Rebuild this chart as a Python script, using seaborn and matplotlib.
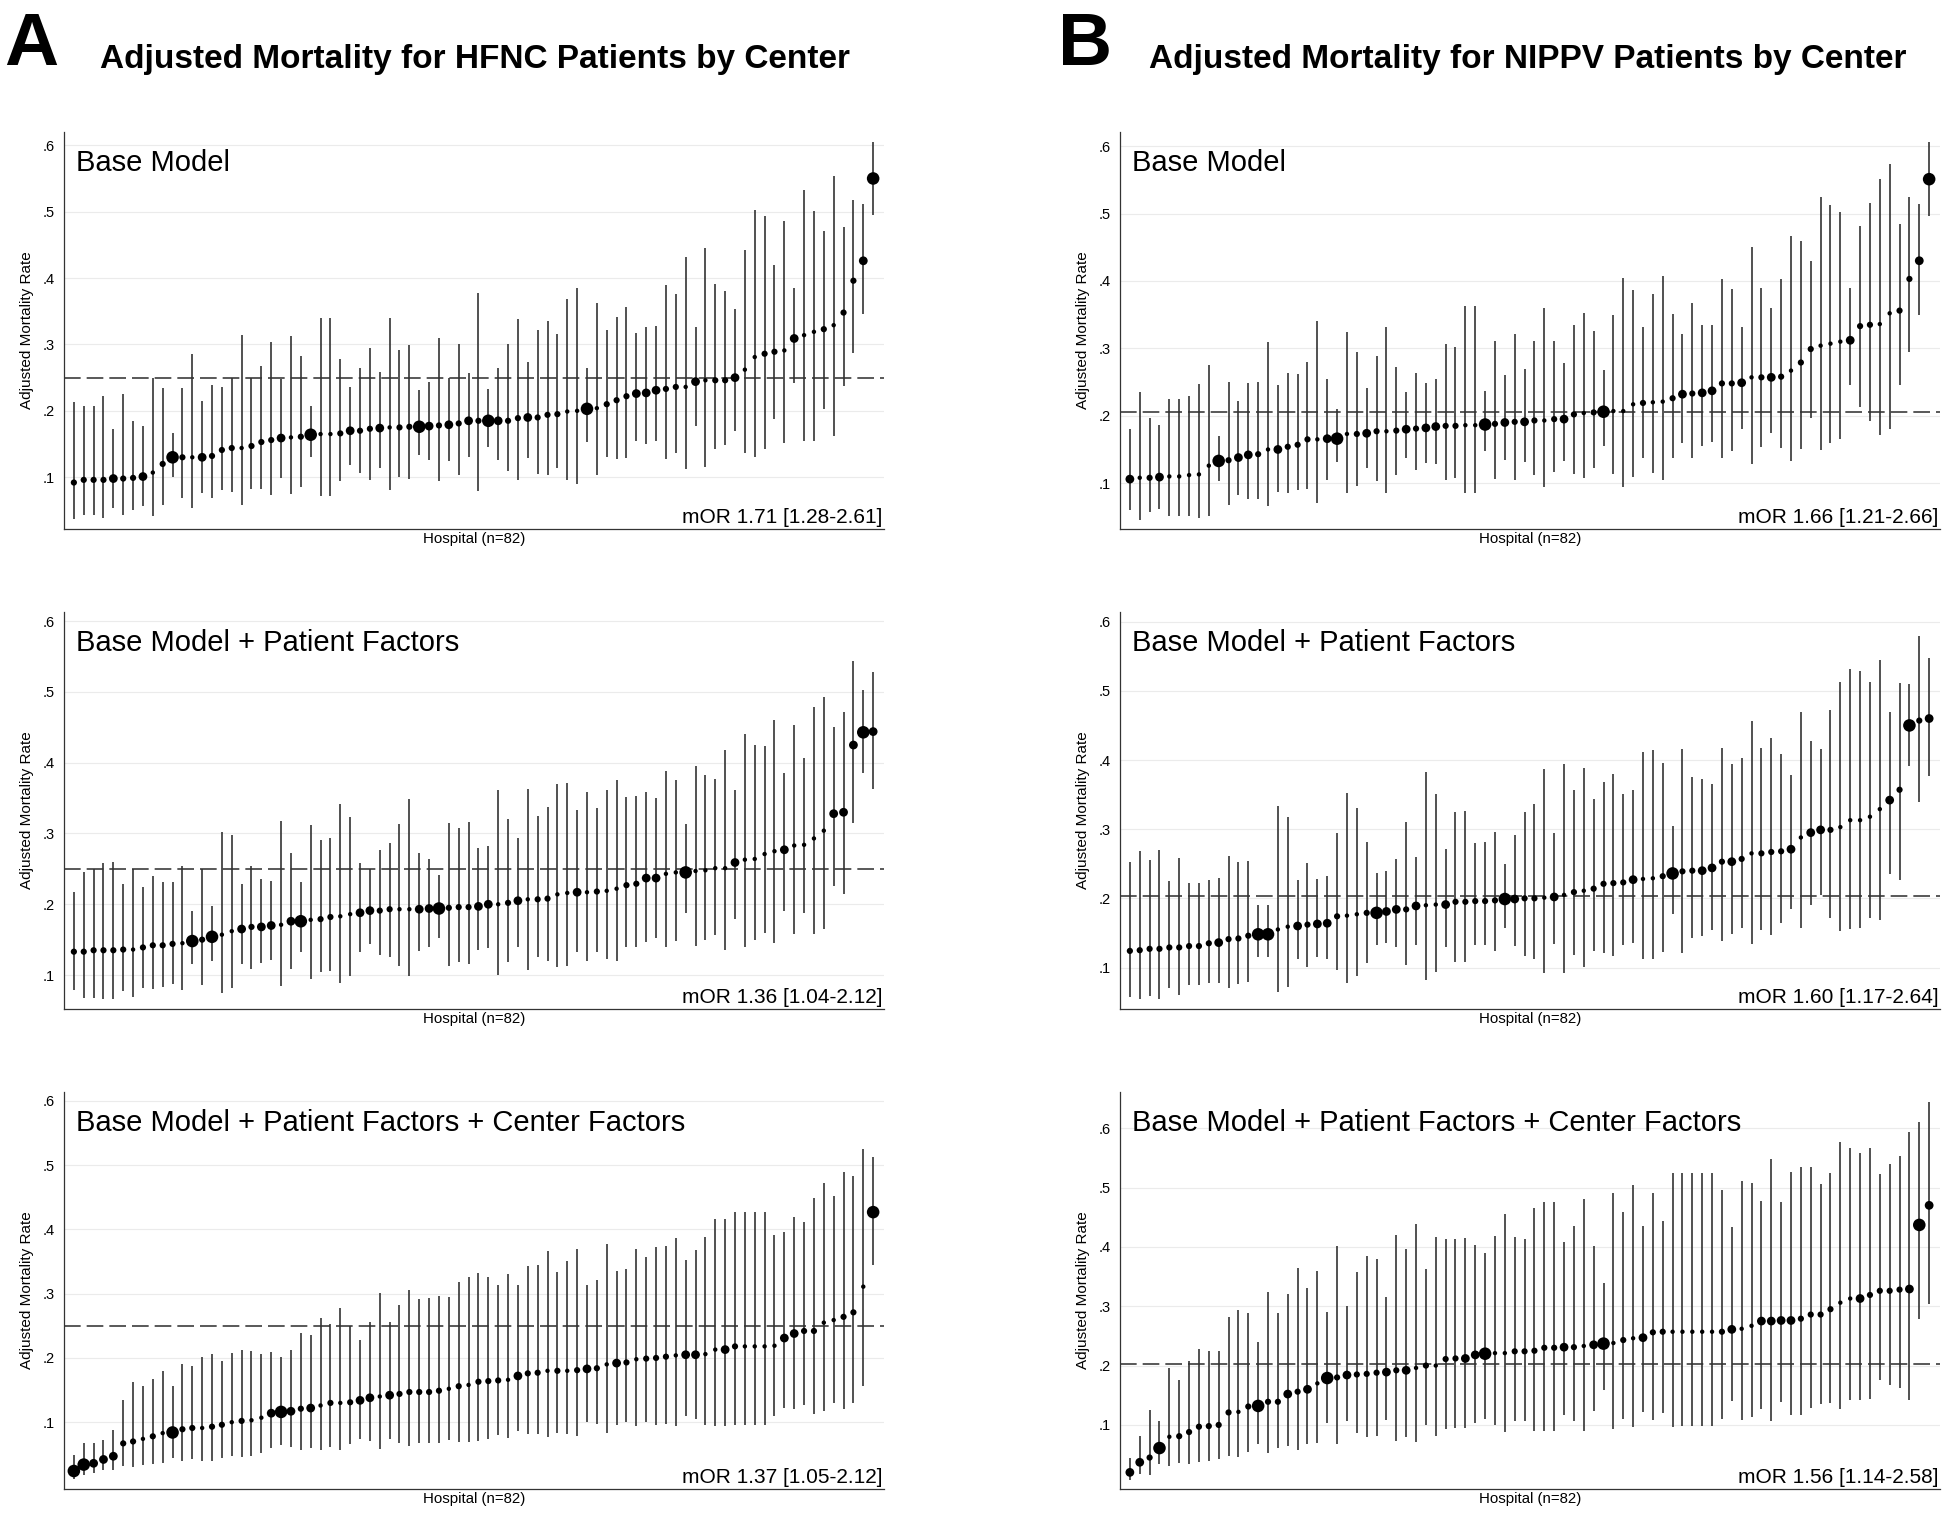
import matplotlib
matplotlib.use("Agg")
import matplotlib.pyplot as plt
import seaborn as sns
import pandas as pd
from matplotlib.ticker import FuncFormatter

# hospitals are sorted by adjusted mortality within each panel
hospitals = list(range(1, 83))
model_labels = ["Base Model", "Base Model + Patient Factors",
                "Base Model + Patient Factors + Center Factors"]
y_ticks = [0.1, 0.2, 0.3, 0.4, 0.5, 0.6]

# ---- A: HFNC ----
hfnc_base_est = [0.092, 0.096, 0.096, 0.096, 0.098, 0.098, 0.099, 0.101, 0.107, 0.120, 0.130, 0.130, 0.130, 0.130,
                 0.132, 0.141, 0.144, 0.144, 0.147, 0.153, 0.156, 0.159, 0.160, 0.161, 0.164, 0.165, 0.165, 0.166,
                 0.170, 0.170, 0.173, 0.174, 0.175, 0.175, 0.176, 0.176, 0.177, 0.178, 0.179, 0.181, 0.185, 0.185,
                 0.185, 0.185, 0.185, 0.189, 0.190, 0.190, 0.194, 0.195, 0.199, 0.200, 0.203, 0.204, 0.210, 0.216,
                 0.222, 0.226, 0.227, 0.231, 0.233, 0.236, 0.236, 0.244, 0.246, 0.246, 0.246, 0.250, 0.262, 0.281,
                 0.286, 0.289, 0.291, 0.309, 0.314, 0.319, 0.323, 0.329, 0.348, 0.396, 0.426, 0.550]
hfnc_base_lo = [0.037, 0.043, 0.043, 0.039, 0.054, 0.043, 0.051, 0.056, 0.042, 0.058, 0.101, 0.068, 0.053, 0.076,
                0.068, 0.080, 0.077, 0.058, 0.082, 0.082, 0.073, 0.099, 0.075, 0.086, 0.130, 0.072, 0.072, 0.095,
                0.119, 0.106, 0.096, 0.114, 0.081, 0.100, 0.097, 0.133, 0.126, 0.095, 0.125, 0.103, 0.130, 0.079,
                0.145, 0.126, 0.109, 0.096, 0.129, 0.105, 0.103, 0.114, 0.096, 0.090, 0.153, 0.104, 0.130, 0.128,
                0.129, 0.155, 0.150, 0.154, 0.127, 0.136, 0.112, 0.177, 0.116, 0.142, 0.149, 0.169, 0.136, 0.131,
                0.142, 0.187, 0.151, 0.242, 0.155, 0.155, 0.203, 0.162, 0.237, 0.287, 0.346, 0.495]
hfnc_base_hi = [0.213, 0.207, 0.207, 0.223, 0.172, 0.225, 0.185, 0.177, 0.249, 0.234, 0.167, 0.235, 0.285, 0.215,
                0.239, 0.236, 0.250, 0.314, 0.250, 0.268, 0.304, 0.248, 0.313, 0.282, 0.208, 0.340, 0.340, 0.278,
                0.236, 0.264, 0.294, 0.258, 0.340, 0.291, 0.299, 0.231, 0.244, 0.309, 0.249, 0.300, 0.257, 0.378,
                0.233, 0.264, 0.301, 0.338, 0.273, 0.322, 0.336, 0.315, 0.369, 0.385, 0.264, 0.363, 0.322, 0.341,
                0.356, 0.317, 0.327, 0.328, 0.389, 0.376, 0.431, 0.326, 0.446, 0.391, 0.380, 0.354, 0.443, 0.502,
                0.494, 0.419, 0.486, 0.385, 0.532, 0.501, 0.471, 0.554, 0.477, 0.518, 0.511, 0.605]
hfnc_base_n = [2, 2, 2, 2, 3, 2, 2, 3, 1, 2, 4, 2, 1, 3, 2, 2, 2, 1, 2, 2, 2, 3, 1, 2, 4, 1, 1, 2, 3, 2, 2, 3, 1, 2,
               2, 4, 3, 2, 3, 2, 3, 2, 4, 3, 2, 2, 3, 2, 2, 2, 1, 1, 4, 1, 2, 2, 2, 3, 3, 3, 2, 2, 1, 3, 1, 2, 2, 3,
               1, 1, 2, 2, 1, 3, 1, 1, 2, 1, 2, 2, 3, 4]

hfnc_pat_est = [0.133, 0.133, 0.135, 0.135, 0.135, 0.136, 0.136, 0.139, 0.142, 0.142, 0.144, 0.145, 0.148, 0.150,
                0.154, 0.157, 0.162, 0.165, 0.168, 0.168, 0.170, 0.171, 0.176, 0.176, 0.178, 0.179, 0.182, 0.183,
                0.186, 0.188, 0.191, 0.191, 0.193, 0.193, 0.193, 0.193, 0.194, 0.194, 0.195, 0.196, 0.196, 0.197,
                0.200, 0.200, 0.202, 0.205, 0.207, 0.207, 0.208, 0.214, 0.216, 0.217, 0.217, 0.218, 0.219, 0.222,
                0.227, 0.229, 0.237, 0.237, 0.243, 0.245, 0.245, 0.247, 0.248, 0.251, 0.251, 0.259, 0.263, 0.264,
                0.271, 0.275, 0.277, 0.283, 0.284, 0.293, 0.304, 0.328, 0.330, 0.425, 0.443, 0.444]
hfnc_pat_lo = [0.079, 0.068, 0.068, 0.066, 0.066, 0.077, 0.069, 0.081, 0.080, 0.083, 0.087, 0.079, 0.115, 0.086,
               0.120, 0.074, 0.081, 0.116, 0.108, 0.117, 0.121, 0.084, 0.109, 0.133, 0.094, 0.104, 0.106, 0.089,
               0.098, 0.133, 0.144, 0.128, 0.125, 0.113, 0.098, 0.134, 0.139, 0.153, 0.113, 0.118, 0.115, 0.135,
               0.138, 0.100, 0.119, 0.139, 0.107, 0.125, 0.120, 0.112, 0.113, 0.132, 0.120, 0.133, 0.123, 0.120,
               0.139, 0.139, 0.147, 0.153, 0.140, 0.148, 0.187, 0.141, 0.150, 0.156, 0.135, 0.179, 0.140, 0.150,
               0.159, 0.145, 0.190, 0.158, 0.187, 0.158, 0.165, 0.226, 0.214, 0.315, 0.386, 0.363]
hfnc_pat_hi = [0.217, 0.246, 0.250, 0.259, 0.260, 0.228, 0.250, 0.225, 0.240, 0.232, 0.232, 0.254, 0.190, 0.250,
               0.198, 0.302, 0.298, 0.228, 0.254, 0.235, 0.233, 0.318, 0.272, 0.232, 0.312, 0.291, 0.294, 0.342,
               0.324, 0.258, 0.250, 0.276, 0.286, 0.313, 0.349, 0.272, 0.264, 0.242, 0.315, 0.308, 0.316, 0.279,
               0.282, 0.361, 0.321, 0.293, 0.363, 0.325, 0.338, 0.370, 0.371, 0.333, 0.358, 0.336, 0.361, 0.375,
               0.351, 0.353, 0.359, 0.350, 0.389, 0.376, 0.314, 0.395, 0.383, 0.377, 0.418, 0.362, 0.441, 0.425,
               0.423, 0.461, 0.385, 0.453, 0.407, 0.479, 0.493, 0.450, 0.472, 0.544, 0.503, 0.528]
hfnc_pat_n = [2, 2, 2, 2, 2, 2, 1, 2, 2, 2, 2, 1, 4, 2, 4, 1, 1, 3, 2, 3, 3, 1, 3, 4, 1, 2, 2, 1, 1, 3, 3, 2, 2, 1,
              1, 3, 3, 4, 2, 2, 2, 3, 3, 1, 2, 3, 1, 2, 2, 1, 1, 3, 1, 2, 1, 1, 2, 2, 3, 3, 1, 1, 4, 1, 1, 1, 1, 3,
              1, 1, 1, 1, 3, 1, 1, 1, 1, 3, 3, 3, 4, 3]

hfnc_ctr_est = [0.024, 0.034, 0.036, 0.042, 0.047, 0.067, 0.070, 0.074, 0.078, 0.083, 0.084, 0.089, 0.091, 0.091,
                0.093, 0.096, 0.100, 0.102, 0.103, 0.107, 0.114, 0.116, 0.117, 0.121, 0.122, 0.126, 0.130, 0.130,
                0.131, 0.134, 0.138, 0.140, 0.142, 0.144, 0.147, 0.147, 0.147, 0.149, 0.152, 0.156, 0.158, 0.163,
                0.164, 0.165, 0.166, 0.172, 0.176, 0.177, 0.180, 0.180, 0.180, 0.181, 0.183, 0.184, 0.190, 0.192,
                0.193, 0.198, 0.199, 0.200, 0.202, 0.204, 0.205, 0.205, 0.206, 0.213, 0.213, 0.218, 0.218, 0.218,
                0.218, 0.219, 0.231, 0.238, 0.242, 0.242, 0.255, 0.259, 0.264, 0.271, 0.311, 0.427]
hfnc_ctr_lo = [0.012, 0.018, 0.021, 0.025, 0.025, 0.032, 0.030, 0.034, 0.035, 0.037, 0.044, 0.039, 0.042, 0.039,
               0.039, 0.045, 0.047, 0.046, 0.048, 0.052, 0.060, 0.065, 0.062, 0.056, 0.060, 0.056, 0.062, 0.056,
               0.066, 0.074, 0.070, 0.058, 0.074, 0.068, 0.063, 0.068, 0.068, 0.068, 0.073, 0.069, 0.069, 0.071,
               0.074, 0.080, 0.075, 0.087, 0.081, 0.082, 0.077, 0.083, 0.082, 0.078, 0.100, 0.097, 0.083, 0.096,
               0.100, 0.094, 0.100, 0.096, 0.097, 0.094, 0.109, 0.105, 0.096, 0.094, 0.094, 0.096, 0.096, 0.096,
               0.096, 0.109, 0.122, 0.121, 0.126, 0.112, 0.117, 0.130, 0.120, 0.130, 0.156, 0.345]
hfnc_ctr_hi = [0.049, 0.068, 0.067, 0.072, 0.088, 0.135, 0.162, 0.157, 0.168, 0.180, 0.157, 0.191, 0.188, 0.201,
               0.206, 0.196, 0.207, 0.212, 0.211, 0.206, 0.210, 0.202, 0.212, 0.239, 0.235, 0.262, 0.253, 0.278,
               0.249, 0.228, 0.256, 0.301, 0.256, 0.283, 0.306, 0.292, 0.293, 0.297, 0.295, 0.318, 0.326, 0.333,
               0.326, 0.313, 0.330, 0.313, 0.343, 0.344, 0.367, 0.334, 0.351, 0.369, 0.313, 0.322, 0.378, 0.335,
               0.339, 0.370, 0.357, 0.373, 0.374, 0.387, 0.352, 0.368, 0.388, 0.417, 0.417, 0.427, 0.427, 0.427,
               0.427, 0.392, 0.396, 0.419, 0.412, 0.449, 0.473, 0.452, 0.489, 0.483, 0.526, 0.513]
hfnc_ctr_n = [4, 4, 3, 3, 3, 2, 2, 1, 2, 1, 4, 2, 2, 1, 2, 2, 1, 2, 1, 1, 3, 4, 3, 2, 3, 1, 2, 1, 2, 3, 3, 1, 3, 2,
              2, 2, 2, 2, 1, 2, 1, 2, 2, 2, 1, 3, 2, 2, 1, 2, 1, 2, 3, 2, 1, 3, 2, 1, 2, 2, 2, 1, 3, 3, 1, 1, 3, 2,
              1, 1, 1, 1, 3, 3, 2, 2, 1, 1, 2, 2, 1, 4]

# ---- B: NIPPV ----
nippv_base_est = [0.106, 0.108, 0.108, 0.109, 0.110, 0.110, 0.112, 0.113, 0.126, 0.133, 0.134, 0.138, 0.142, 0.143,
                  0.150, 0.150, 0.154, 0.157, 0.165, 0.165, 0.166, 0.166, 0.173, 0.173, 0.174, 0.177, 0.177, 0.178,
                  0.180, 0.181, 0.182, 0.184, 0.185, 0.185, 0.186, 0.186, 0.187, 0.188, 0.190, 0.191, 0.191, 0.193,
                  0.193, 0.195, 0.195, 0.202, 0.204, 0.205, 0.206, 0.207, 0.207, 0.217, 0.219, 0.220, 0.221, 0.226,
                  0.232, 0.233, 0.234, 0.237, 0.248, 0.248, 0.249, 0.257, 0.257, 0.257, 0.258, 0.267, 0.279, 0.299,
                  0.304, 0.307, 0.310, 0.312, 0.333, 0.335, 0.336, 0.352, 0.356, 0.403, 0.430, 0.551]
nippv_base_lo = [0.060, 0.046, 0.057, 0.061, 0.051, 0.051, 0.051, 0.048, 0.052, 0.103, 0.067, 0.083, 0.077, 0.077,
                 0.066, 0.087, 0.086, 0.090, 0.091, 0.071, 0.104, 0.132, 0.085, 0.096, 0.123, 0.103, 0.086, 0.112,
                 0.137, 0.119, 0.130, 0.129, 0.104, 0.108, 0.085, 0.085, 0.148, 0.106, 0.134, 0.104, 0.131, 0.112,
                 0.094, 0.116, 0.133, 0.114, 0.108, 0.122, 0.155, 0.113, 0.094, 0.109, 0.137, 0.115, 0.104, 0.137,
                 0.160, 0.138, 0.155, 0.161, 0.138, 0.147, 0.181, 0.128, 0.154, 0.175, 0.152, 0.133, 0.151, 0.196,
                 0.149, 0.159, 0.166, 0.246, 0.213, 0.192, 0.172, 0.181, 0.246, 0.294, 0.350, 0.496]
nippv_base_hi = [0.180, 0.235, 0.196, 0.186, 0.225, 0.225, 0.230, 0.247, 0.276, 0.170, 0.250, 0.222, 0.248, 0.250,
                 0.310, 0.246, 0.263, 0.262, 0.280, 0.341, 0.255, 0.210, 0.324, 0.294, 0.241, 0.289, 0.332, 0.272,
                 0.235, 0.264, 0.249, 0.255, 0.306, 0.302, 0.363, 0.363, 0.236, 0.311, 0.261, 0.322, 0.269, 0.311,
                 0.360, 0.311, 0.279, 0.335, 0.353, 0.326, 0.268, 0.350, 0.404, 0.387, 0.332, 0.380, 0.408, 0.351,
                 0.322, 0.367, 0.335, 0.335, 0.403, 0.388, 0.331, 0.451, 0.389, 0.360, 0.403, 0.467, 0.459, 0.429,
                 0.524, 0.513, 0.503, 0.389, 0.481, 0.515, 0.552, 0.574, 0.484, 0.525, 0.514, 0.606]
nippv_base_n = [3, 1, 2, 3, 1, 1, 1, 1, 1, 4, 2, 3, 3, 2, 1, 3, 2, 2, 2, 1, 3, 4, 1, 2, 3, 2, 1, 2, 3, 2, 3, 3, 2, 2,
                1, 1, 4, 2, 3, 2, 3, 2, 1, 2, 3, 2, 1, 2, 4, 1, 1, 1, 2, 1, 1, 2, 3, 2, 3, 3, 2, 2, 3, 1, 2, 3, 2, 1,
                2, 2, 1, 1, 1, 3, 2, 2, 1, 1, 2, 2, 3, 4]

nippv_pat_est = [0.124, 0.125, 0.127, 0.127, 0.129, 0.129, 0.131, 0.131, 0.135, 0.136, 0.141, 0.142, 0.146, 0.148,
                 0.148, 0.155, 0.159, 0.160, 0.162, 0.163, 0.164, 0.174, 0.175, 0.177, 0.179, 0.179, 0.181, 0.184,
                 0.184, 0.189, 0.190, 0.191, 0.191, 0.195, 0.195, 0.196, 0.196, 0.197, 0.199, 0.199, 0.200, 0.200,
                 0.201, 0.202, 0.205, 0.209, 0.211, 0.214, 0.221, 0.222, 0.223, 0.227, 0.228, 0.229, 0.232, 0.236,
                 0.239, 0.240, 0.240, 0.244, 0.253, 0.253, 0.257, 0.265, 0.265, 0.267, 0.268, 0.271, 0.288, 0.295,
                 0.299, 0.299, 0.303, 0.313, 0.313, 0.318, 0.329, 0.342, 0.357, 0.450, 0.457, 0.460]
nippv_pat_lo = [0.058, 0.054, 0.059, 0.054, 0.070, 0.060, 0.075, 0.075, 0.078, 0.078, 0.071, 0.076, 0.079, 0.115,
                0.115, 0.064, 0.072, 0.112, 0.101, 0.115, 0.113, 0.096, 0.077, 0.087, 0.107, 0.133, 0.135, 0.129,
                0.103, 0.133, 0.082, 0.093, 0.130, 0.108, 0.108, 0.133, 0.132, 0.124, 0.157, 0.131, 0.116, 0.112,
                0.092, 0.134, 0.092, 0.118, 0.101, 0.124, 0.121, 0.117, 0.133, 0.136, 0.112, 0.112, 0.123, 0.178,
                0.121, 0.142, 0.145, 0.154, 0.138, 0.149, 0.157, 0.134, 0.154, 0.147, 0.164, 0.185, 0.157, 0.191,
                0.205, 0.171, 0.153, 0.156, 0.157, 0.171, 0.169, 0.235, 0.227, 0.392, 0.339, 0.377]
nippv_pat_hi = [0.252, 0.268, 0.255, 0.270, 0.225, 0.259, 0.222, 0.222, 0.226, 0.230, 0.261, 0.252, 0.254, 0.190,
                0.191, 0.333, 0.317, 0.226, 0.251, 0.228, 0.233, 0.295, 0.353, 0.331, 0.282, 0.237, 0.239, 0.257,
                0.311, 0.260, 0.383, 0.351, 0.272, 0.325, 0.327, 0.280, 0.282, 0.296, 0.250, 0.292, 0.325, 0.336,
                0.387, 0.294, 0.394, 0.356, 0.388, 0.344, 0.368, 0.380, 0.351, 0.357, 0.411, 0.415, 0.395, 0.305,
                0.416, 0.376, 0.373, 0.365, 0.417, 0.394, 0.403, 0.456, 0.418, 0.432, 0.408, 0.379, 0.469, 0.428,
                0.416, 0.472, 0.513, 0.532, 0.529, 0.513, 0.545, 0.470, 0.512, 0.510, 0.580, 0.547]
nippv_pat_n = [2, 2, 2, 2, 2, 2, 2, 2, 2, 3, 2, 2, 2, 4, 4, 1, 1, 3, 2, 3, 3, 2, 1, 1, 2, 4, 3, 3, 2, 3, 1, 1, 3, 2,
               2, 2, 2, 2, 4, 3, 2, 2, 1, 3, 1, 2, 1, 2, 2, 2, 2, 3, 1, 1, 2, 4, 2, 2, 3, 3, 2, 3, 2, 1, 2, 2, 2, 3,
               1, 3, 3, 2, 1, 1, 1, 1, 1, 3, 2, 4, 2, 3]

nippv_ctr_est = [0.020, 0.037, 0.045, 0.061, 0.080, 0.081, 0.088, 0.097, 0.098, 0.100, 0.121, 0.122, 0.131, 0.132,
                 0.139, 0.139, 0.152, 0.156, 0.160, 0.170, 0.179, 0.180, 0.184, 0.185, 0.186, 0.188, 0.189, 0.192,
                 0.192, 0.196, 0.200, 0.200, 0.211, 0.212, 0.212, 0.218, 0.220, 0.221, 0.221, 0.224, 0.224, 0.225,
                 0.230, 0.230, 0.231, 0.231, 0.233, 0.235, 0.237, 0.238, 0.243, 0.246, 0.247, 0.256, 0.257, 0.257,
                 0.257, 0.257, 0.257, 0.257, 0.257, 0.261, 0.262, 0.267, 0.275, 0.275, 0.276, 0.276, 0.279, 0.286,
                 0.286, 0.295, 0.306, 0.313, 0.313, 0.319, 0.326, 0.326, 0.328, 0.329, 0.437, 0.470]
nippv_ctr_lo = [0.008, 0.017, 0.016, 0.034, 0.031, 0.035, 0.034, 0.038, 0.040, 0.042, 0.047, 0.046, 0.054, 0.068,
                0.052, 0.061, 0.065, 0.057, 0.068, 0.070, 0.104, 0.068, 0.107, 0.086, 0.079, 0.081, 0.108, 0.073,
                0.080, 0.072, 0.100, 0.082, 0.093, 0.094, 0.094, 0.104, 0.110, 0.100, 0.088, 0.106, 0.107, 0.089,
                0.090, 0.090, 0.117, 0.106, 0.090, 0.124, 0.159, 0.093, 0.110, 0.096, 0.122, 0.108, 0.120, 0.097,
                0.098, 0.098, 0.098, 0.098, 0.110, 0.141, 0.108, 0.113, 0.127, 0.107, 0.139, 0.117, 0.117, 0.129,
                0.135, 0.137, 0.126, 0.142, 0.142, 0.143, 0.176, 0.167, 0.163, 0.142, 0.278, 0.304]
nippv_ctr_hi = [0.045, 0.081, 0.125, 0.106, 0.196, 0.175, 0.208, 0.228, 0.225, 0.224, 0.282, 0.294, 0.288, 0.240,
                0.324, 0.289, 0.320, 0.364, 0.330, 0.360, 0.291, 0.402, 0.301, 0.358, 0.385, 0.379, 0.315, 0.420,
                0.396, 0.438, 0.362, 0.416, 0.413, 0.413, 0.415, 0.403, 0.390, 0.419, 0.456, 0.416, 0.413, 0.465,
                0.475, 0.475, 0.408, 0.435, 0.481, 0.402, 0.339, 0.490, 0.458, 0.504, 0.435, 0.490, 0.444, 0.525,
                0.525, 0.525, 0.525, 0.525, 0.496, 0.433, 0.511, 0.508, 0.478, 0.548, 0.475, 0.526, 0.534, 0.534,
                0.506, 0.524, 0.576, 0.566, 0.559, 0.566, 0.523, 0.539, 0.553, 0.593, 0.611, 0.644]
nippv_ctr_n = [3, 3, 2, 4, 1, 2, 2, 2, 2, 2, 2, 1, 2, 4, 2, 2, 3, 2, 3, 1, 4, 2, 3, 2, 2, 2, 3, 2, 3, 1, 2, 1, 2, 2,
               3, 3, 4, 1, 1, 2, 2, 2, 2, 2, 3, 2, 1, 3, 4, 1, 2, 1, 3, 2, 2, 1, 1, 1, 1, 1, 2, 3, 1, 1, 3, 3, 3, 3,
               2, 2, 2, 2, 1, 1, 3, 2, 2, 2, 2, 3, 4, 3]

hfnc_ref = [0.25, 0.25, 0.25]
nippv_ref = [0.206, 0.203, 0.202]
hfnc_mor = ["mOR 1.71 [1.28-2.61]", "mOR 1.36 [1.04-2.12]", "mOR 1.37 [1.05-2.12]"]
nippv_mor = ["mOR 1.66 [1.21-2.66]", "mOR 1.60 [1.17-2.64]", "mOR 1.56 [1.14-2.58]"]
hfnc_ylim = [(0.022, 0.620), (0.052, 0.613), (-0.004, 0.614)]
nippv_ylim = [(0.032, 0.621), (0.040, 0.614), (-0.008, 0.661)]


def draw_panel(ax, est, lo, hi, n, ylim, ref, label, mor):
    df = pd.DataFrame({"hospital": hospitals, "est": est, "lo": lo, "hi": hi, "n": n})

    ax.axhline(ref, color="#3c3c3c", lw=1.2, linestyle=(0, (10, 3.6)), zorder=1)
    ax.vlines(df["hospital"], df["lo"], df["hi"], color="#333333", lw=1.2, zorder=2)
    sns.scatterplot(data=df, x="hospital", y="est", size="n",
                    sizes={1: 10, 2: 20, 3: 40, 4: 82}, color="black",
                    linewidth=0, legend=False, ax=ax, zorder=3)

    ax.set_xlim(0, 83.1)
    ax.set_ylim(*ylim)
    ax.set_xticks([])
    ax.set_yticks(y_ticks)
    ax.yaxis.set_major_formatter(FuncFormatter(lambda v, p: f"{v:.1f}".lstrip("0")))
    ax.grid(axis="y", color="#ebebeb", lw=0.8)
    ax.grid(axis="x", visible=False)
    ax.set_axisbelow(True)
    for side in ["top", "right"]:
        ax.spines[side].set_visible(False)
    for side in ["left", "bottom"]:
        ax.spines[side].set_color("#333333")
        ax.spines[side].set_linewidth(0.9)
    ax.tick_params(axis="y", length=3, width=0.8, color="#333333", pad=4,
                   labelsize=10.5, labelcolor="black")

    ax.set_xlabel("Hospital (n=82)", fontsize=10.8, labelpad=2, color="black")
    ax.set_ylabel("Adjusted Mortality Rate", fontsize=11, labelpad=6, color="black")

    ax.text(0.0146, 0.902, label, transform=ax.transAxes, fontsize=21,
            va="baseline", ha="left", color="black")
    ax.text(0.998, 0.016, mor, transform=ax.transAxes, fontsize=15,
            va="baseline", ha="right", color="black")


sns.set_style("white")
plt.rcParams["font.family"] = ["Liberation Sans", "DejaVu Sans"]
plt.rcParams["text.color"] = "black"

fig = plt.figure(figsize=(19.56, 15.26), dpi=100)

col_left = [64 / 1956, 1120 / 1956]
row_bottom = [1 - 529 / 1526, 1 - 1009 / 1526, 1 - 1489 / 1526]
ax_w = 820 / 1956
ax_h = 397 / 1526

columns = [
    (hfnc_base_est, hfnc_base_lo, hfnc_base_hi, hfnc_base_n,
     hfnc_pat_est, hfnc_pat_lo, hfnc_pat_hi, hfnc_pat_n,
     hfnc_ctr_est, hfnc_ctr_lo, hfnc_ctr_hi, hfnc_ctr_n, hfnc_ylim, hfnc_ref, hfnc_mor),
    (nippv_base_est, nippv_base_lo, nippv_base_hi, nippv_base_n,
     nippv_pat_est, nippv_pat_lo, nippv_pat_hi, nippv_pat_n,
     nippv_ctr_est, nippv_ctr_lo, nippv_ctr_hi, nippv_ctr_n, nippv_ylim, nippv_ref, nippv_mor),
]

for c, col in enumerate(columns):
    ylims, refs, mors = col[12], col[13], col[14]
    for r in range(3):
        est, lo, hi, n = col[4 * r: 4 * r + 4]
        ax = fig.add_axes([col_left[c], row_bottom[r], ax_w, ax_h])
        draw_panel(ax, est, lo, hi, n, ylims[r], refs[r], model_labels[r], mors[r])

# panel letters and titles
fig.text(4 / 1956, 1 - 65 / 1526, "A", fontsize=54, fontweight="bold",
         va="baseline", ha="left", color="black")
fig.text(1058 / 1956, 1 - 65 / 1526, "B", fontsize=54, fontweight="bold",
         va="baseline", ha="left", color="black")
fig.text(475 / 1956, 1 - 68 / 1526, "Adjusted Mortality for HFNC Patients by Center",
         fontsize=24, fontweight="bold", va="baseline", ha="center", color="black")
fig.text(1528 / 1956, 1 - 68 / 1526, "Adjusted Mortality for NIPPV Patients by Center",
         fontsize=24, fontweight="bold", va="baseline", ha="center", color="black")

fig.savefig("out.png", dpi=100)
